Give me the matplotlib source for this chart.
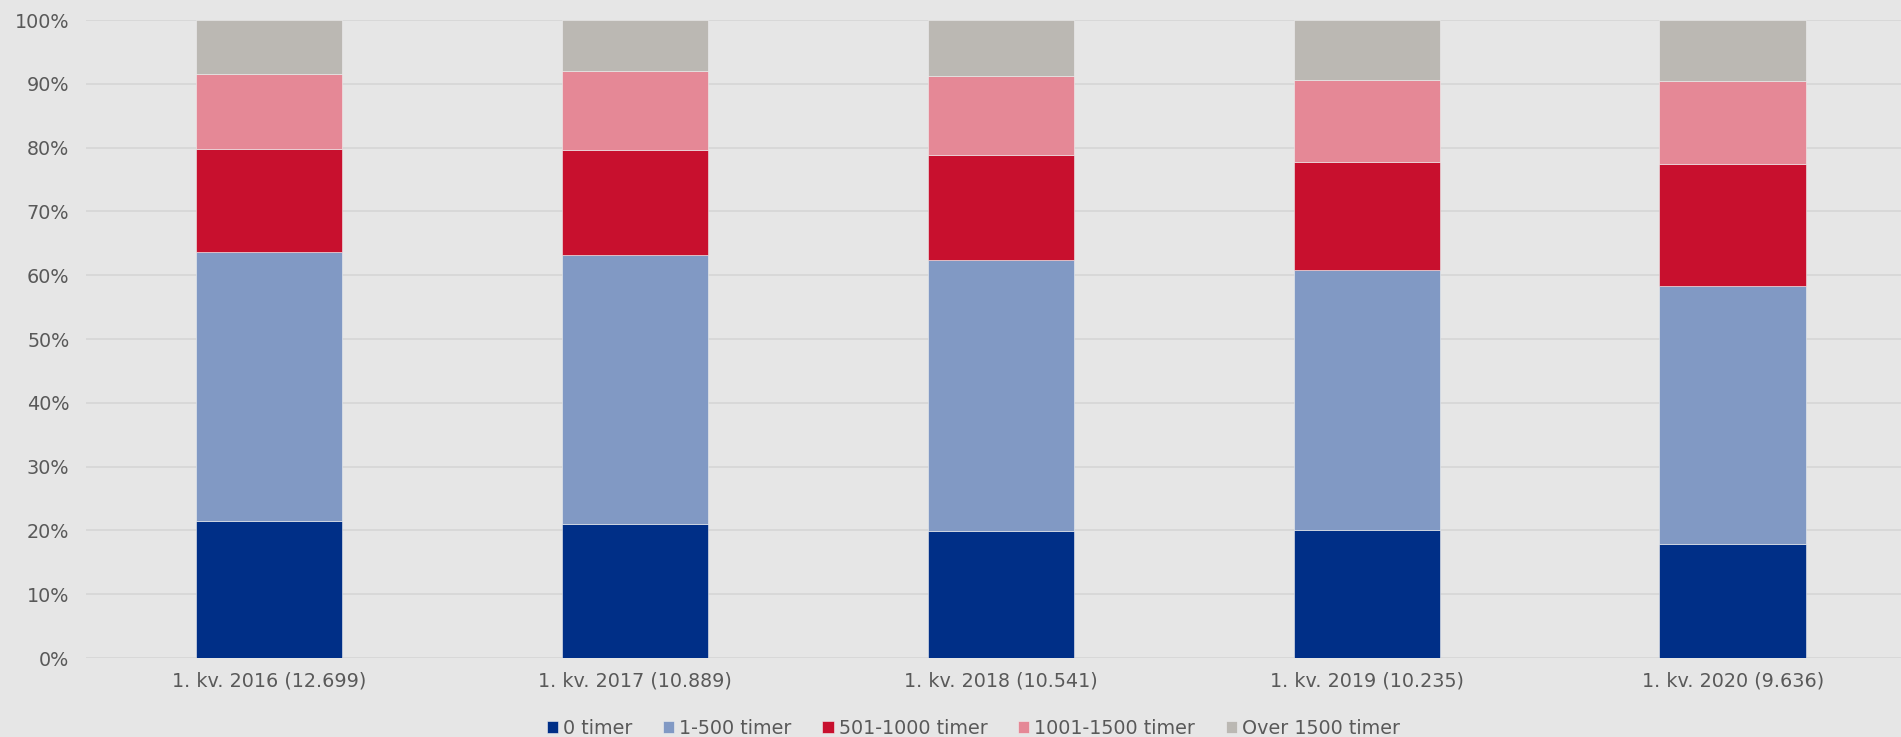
import matplotlib.pyplot as plt
import numpy as np

categories = ["1. kv. 2016 (12.699)", "1. kv. 2017 (10.889)", "1. kv. 2018 (10.541)",
              "1. kv. 2019 (10.235)", "1. kv. 2020 (9.636)"]
series_names = ["0 timer", "1-500 timer", "501-1000 timer", "1001-1500 timer", "Over 1500 timer"]
t0 = [21.4, 21.0, 19.9, 20.0, 17.8]
t1_500 = [42.3, 42.1, 42.5, 40.8, 40.5]
t501_1000 = [16.1, 16.6, 16.5, 17.0, 19.2]
t1001_1500 = [11.7, 12.3, 12.4, 12.8, 13.0]
t1500 = [8.5, 8.0, 8.7, 9.4, 9.5]
colors = ["#002f87", "#8199c4", "#c8102e", "#e58896", "#bbb8b3"]

bg = "#e6e6e6"
txt = "#595959"

fig = plt.figure(figsize=(19.01, 7.37), dpi=100, facecolor=bg)
ax = fig.add_axes([86 / 1901, 1 - 658 / 737, 1 - 86 / 1901, (658 - 20) / 737])
ax.set_facecolor(bg)

x = np.arange(len(categories))
bottom = np.zeros(len(categories))
for name, vals, c in zip(series_names, [t0, t1_500, t501_1000, t1001_1500, t1500], colors):
    ax.bar(x, vals, bottom=bottom, width=0.4, color=c, label=name,
           edgecolor="#f0f0f0", linewidth=0.4, zorder=3)
    bottom += np.array(vals)

ax.set_ylim(0, 100)
ax.set_xlim(-0.5, 4.46)
ax.set_yticks(np.arange(0, 101, 10))
ax.set_yticklabels([f"{v}%" for v in range(0, 101, 10)])
ax.set_xticks(x)
ax.set_xticklabels(categories)
ax.grid(axis="y", color="#d6d6d6", linewidth=1.2, zorder=0)
ax.tick_params(axis="both", length=0, labelsize=13.8, labelcolor=txt)
ax.tick_params(axis="x", pad=10)
ax.tick_params(axis="y", pad=12)
for s in ax.spines.values():
    s.set_visible(False)

fig.legend(loc="center", bbox_to_anchor=(0.512, 1 - 728 / 737), ncol=5, frameon=False,
           fontsize=13.8, labelcolor=txt, handlelength=0.6, handleheight=0.6,
           handletextpad=0.25, columnspacing=1.6)

fig.savefig("out.png", dpi=100, facecolor=bg)
